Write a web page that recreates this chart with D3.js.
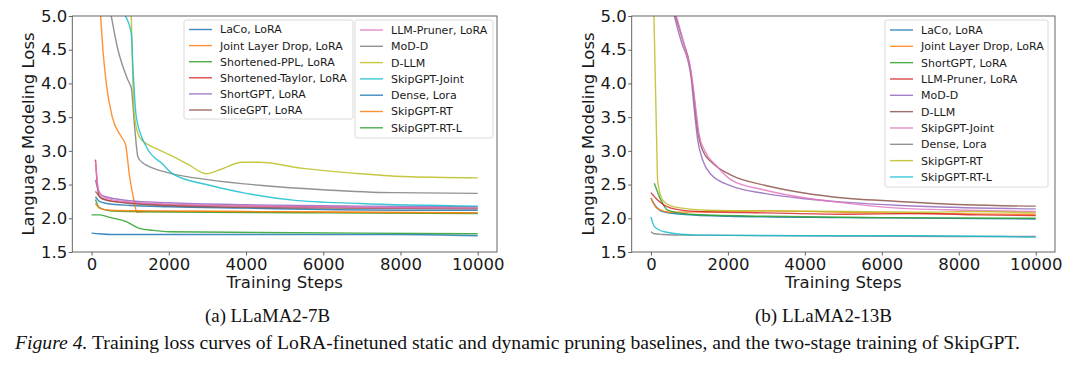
<!DOCTYPE html>
<html><head><meta charset="utf-8">
<script src="https://cdn.jsdelivr.net/npm/d3@7"></script>
<style>
body{margin:0;background:#fff;}
svg{display:block;}
</style></head>
<body>
<svg id="chart" width="1080" height="365"></svg>
<script>
// ---------- DATA ----------
const yTicks = [1.5, 2.0, 2.5, 3.0, 3.5, 4.0, 4.5, 5.0];
const xTicks = [0, 2000, 4000, 6000, 8000, 10000];

// (a) LLaMA2-7B : [step, loss]
const a_LaCo = [[100,2.32],[200,2.25],[400,2.22],[1000,2.19],[2000,2.17],[4000,2.15],[6000,2.13],[8000,2.12],[10000,2.12]];
const a_JointLD = [[233,5.0],[293,4.5],[380,4.0],[536,3.5],[769,3.21],[880,3.09],[984,2.62],[1114,2.22],[1165,2.09],[1500,2.10],[3000,2.10],[6000,2.09],[10000,2.08]];
const a_ShortPPL = [[100,2.28],[200,2.16],[466,2.11],[1000,2.10],[3000,2.09],[6000,2.08],[10000,2.07]];
const a_ShortTaylor = [[100,2.87],[163,2.42],[207,2.32],[400,2.27],[1000,2.23],[2000,2.20],[4000,2.18],[7000,2.16],[10000,2.15]];
const a_ShortGPT = [[100,2.57],[180,2.40],[300,2.33],[1000,2.26],[2000,2.23],[4000,2.20],[7000,2.18],[10000,2.17]];
const a_SliceGPT = [[100,2.40],[300,2.28],[1000,2.22],[3000,2.17],[6000,2.15],[10000,2.14]];
const a_LLMPruner = [[100,2.85],[170,2.45],[250,2.34],[500,2.28],[1000,2.24],[2000,2.21],[4000,2.18],[7000,2.16],[10000,2.15]];
const a_MoDD = [[510,5.0],[682,4.5],[811,4.25],[941,4.05],[1028,3.93],[1114,3.36],[1200,2.91],[1330,2.82],[1417,2.79],[2020,2.67],[3057,2.57],[4352,2.49],[6080,2.42],[7800,2.38],[10000,2.37]];
const a_DLLM = [[1028,5.0],[1070,4.0],[1114,3.5],[1243,3.2],[1500,3.08],[1762,3.01],[2021,2.94],[2500,2.8],[2971,2.66],[3316,2.72],[3900,2.83],[4350,2.83],[5475,2.74],[6770,2.67],[8065,2.62],[10000,2.60]];
const a_SkipJoint = [[873,5.0],[1028,4.74],[1070,4.25],[1158,3.5],[1417,3.06],[1847,2.8],[2100,2.66],[3057,2.49],[4007,2.37],[5216,2.27],[6943,2.22],[10000,2.18]];
const a_Dense = [[0,1.78],[200,1.77],[500,1.76],[2000,1.76],[5000,1.76],[8000,1.76],[10000,1.74]];
const a_SkipRT = [[100,2.22],[200,2.15],[500,2.12],[1500,2.11],[4000,2.10],[7000,2.09],[10000,2.08]];
const a_SkipRTL = [[0,2.05],[207,2.05],[500,2.01],[898,1.95],[1243,1.85],[1600,1.82],[2020,1.80],[4352,1.79],[7000,1.78],[10000,1.77]];

// (b) LLaMA2-13B : [step, loss]
const b_LaCo = [[0,2.30],[100,2.20],[300,2.10],[800,2.06],[2000,2.03],[5000,2.01],[10000,1.99]];
const b_JointLD = [[0,2.30],[150,2.15],[500,2.09],[1500,2.10],[3000,2.11],[5000,2.09],[7000,2.07],[10000,2.06]];
const b_ShortGPT = [[87,2.52],[260,2.27],[434,2.12],[1000,2.06],[3000,2.03],[6000,2.01],[10000,2.00]];
const b_LLMPruner = [[0,2.38],[174,2.27],[520,2.15],[1216,2.10],[3000,2.08],[5000,2.06],[7000,2.07],[8500,2.05],[10000,2.04]];
const b_MoDD = [[607,5.0],[800,4.6],[955,4.35],[1042,4.1],[1128,3.6],[1216,3.16],[1346,2.86],[1563,2.65],[2083,2.48],[2943,2.37],[4000,2.29],[5000,2.24],[6500,2.19],[8000,2.16],[10000,2.14]];
const b_DLLM = [[640,5.0],[850,4.6],[1000,4.3],[1100,3.9],[1216,3.3],[1346,3.0],[1600,2.82],[2083,2.64],[2950,2.49],[3820,2.39],[4688,2.32],[6424,2.25],[8160,2.20],[10000,2.18]];
const b_SkipJoint = [[660,5.0],[900,4.5],[1050,4.15],[1150,3.7],[1250,3.25],[1400,3.0],[1700,2.78],[2083,2.57],[2943,2.42],[3820,2.32],[4688,2.25],[6424,2.15],[8160,2.12],[10000,2.10]];
const b_Dense = [[0,1.80],[87,1.77],[300,1.76],[1000,1.75],[4000,1.74],[8000,1.73],[10000,1.73]];
const b_SkipRT = [[78,5.0],[150,3.1],[175,2.55],[304,2.27],[600,2.17],[1500,2.12],[3000,2.11],[5000,2.10],[7000,2.09],[8500,2.10],[10000,2.08]];
const b_SkipRTL = [[0,2.02],[87,1.88],[346,1.80],[1216,1.75],[4000,1.74],[7000,1.74],[10000,1.72]];

const namesA = ["LaCo, LoRA","Joint Layer Drop, LoRA","Shortened-PPL, LoRA","Shortened-Taylor, LoRA","ShortGPT, LoRA","SliceGPT, LoRA","LLM-Pruner, LoRA","MoD-D","D-LLM","SkipGPT-Joint","Dense, Lora","SkipGPT-RT","SkipGPT-RT-L"];
const seriesA = [a_LaCo,a_JointLD,a_ShortPPL,a_ShortTaylor,a_ShortGPT,a_SliceGPT,a_LLMPruner,a_MoDD,a_DLLM,a_SkipJoint,a_Dense,a_SkipRT,a_SkipRTL];
const namesB = ["LaCo, LoRA","Joint Layer Drop, LoRA","ShortGPT, LoRA","LLM-Pruner, LoRA","MoD-D","D-LLM","SkipGPT-Joint","Dense, Lora","SkipGPT-RT","SkipGPT-RT-L"];
const seriesB = [b_LaCo,b_JointLD,b_ShortGPT,b_LLMPruner,b_MoDD,b_DLLM,b_SkipJoint,b_Dense,b_SkipRT,b_SkipRTL];

const palette = ["#1f77b4","#ff7f0e","#2ca02c","#d62728","#9467bd","#8c564b","#e377c2","#7f7f7f","#bcbd22","#17becf"];

// ---------- DRAW ----------
const svg = d3.select("#chart");
const FONT = "DejaVu Sans, sans-serif";

function panel(id, x0, x1, y0, y1, names, series, legends) {
  const g = svg.append("g");
  const x = d3.scaleLinear().domain([-500, 10500]).range([x0, x1]);
  const y = d3.scaleLinear().domain([1.5, 5.0]).range([y1, y0]);

  g.append("clipPath").attr("id", id).append("rect")
    .attr("x", x0).attr("y", y0).attr("width", x1 - x0).attr("height", y1 - y0);

  const line = d3.line().curve(d3.curveMonotoneX).x(d => x(d[0])).y(d => y(d[1]));
  const lg = g.append("g").attr("clip-path", `url(#${id})`);
  series.forEach((s, i) => {
    lg.append("path").attr("d", line(s)).attr("fill", "none")
      .attr("stroke", palette[i % 10]).attr("stroke-width", 1.4)
      .attr("stroke-opacity", 0.85).attr("stroke-linejoin", "round");
  });

  // axes
  const ax = g.append("g").attr("transform", `translate(0,${y1})`)
    .call(d3.axisBottom(x).tickValues(xTicks).tickFormat(d3.format("d")).tickSize(3.5).tickSizeOuter(0).tickPadding(3));
  const ay = g.append("g").attr("transform", `translate(${x0},0)`)
    .call(d3.axisLeft(y).tickValues(yTicks).tickFormat(d3.format(".1f")).tickSize(3.5).tickSizeOuter(0).tickPadding(1.5));
  [ax, ay].forEach(a => {
    a.select(".domain").remove();
    a.selectAll(".tick line").attr("stroke", "#555").attr("stroke-width", 0.9);
    a.selectAll(".tick text").attr("fill", "#1a1a1a").style("font-family", FONT).style("font-size", "16.5px");
  });

  g.append("rect").attr("x", x0).attr("y", y0).attr("width", x1 - x0).attr("height", y1 - y0)
    .attr("fill", "none").attr("stroke", "#555").attr("stroke-width", 0.9);

  g.append("text").attr("x", (x0 + x1) / 2).attr("y", 288).attr("text-anchor", "middle")
    .style("font-family", FONT).style("font-size", "16.5px").attr("fill", "#1a1a1a").text("Training Steps");
  g.append("text").attr("transform", `translate(${x0 - 38},${(y0 + y1) / 2}) rotate(-90)`)
    .attr("text-anchor", "middle").style("font-family", FONT).style("font-size", "16.5px")
    .attr("fill", "#1a1a1a").text("Language Modeling Loss");

  // legends
  legends.forEach(L => {
    const lgd = g.append("g");
    lgd.append("rect").attr("x", L.x).attr("y", L.y).attr("width", L.w).attr("height", L.h)
      .attr("rx", 2).attr("fill", "#fff").attr("fill-opacity", 0.85).attr("stroke", "#d6d6d6").attr("stroke-width", 0.9);
    L.idx.forEach((k, j) => {
      const cy = L.y + L.first + j * L.step;
      lgd.append("line").attr("x1", L.x + 5).attr("x2", L.x + 28).attr("y1", cy).attr("y2", cy)
        .attr("stroke", palette[k % 10]).attr("stroke-width", 1.4).attr("stroke-opacity", 0.85);
      lgd.append("text").attr("x", L.x + 36).attr("y", cy).attr("dy", "0.36em")
        .style("font-family", FONT).style("font-size", "11px").attr("fill", "#1a1a1a").text(names[k]);
    });
  });
}

panel("clipA", 72.3, 497, 16, 252, namesA, seriesA, [
  {x: 184, y: 20, w: 169, h: 99, first: 9.5, step: 16.1, idx: [0,1,2,3,4,5]},
  {x: 355, y: 20, w: 138, h: 118, first: 10, step: 16.3, idx: [6,7,8,9,10,11,12]}
]);
panel("clipB", 631.7, 1055, 16, 252, namesB, seriesB, [
  {x: 885, y: 20, w: 163, h: 167, first: 10, step: 16.33, idx: [0,1,2,3,4,5,6,7,8,9]}
]);

// captions
const SERIF = "Liberation Serif, Times New Roman, serif";
svg.append("text").attr("x", 205).attr("y", 322).attr("textLength", 125).attr("lengthAdjust", "spacingAndGlyphs")
  .style("font-family", SERIF).style("font-size", "19px").attr("fill", "#111").text("(a) LLaMA2-7B");
svg.append("text").attr("x", 755).attr("y", 322).attr("textLength", 137).attr("lengthAdjust", "spacingAndGlyphs")
  .style("font-family", SERIF).style("font-size", "19px").attr("fill", "#111").text("(b) LLaMA2-13B");
const cap = svg.append("text").attr("x", 15).attr("y", 349).attr("textLength", 1005).attr("lengthAdjust", "spacingAndGlyphs")
  .style("font-family", SERIF).style("font-size", "19px").attr("fill", "#111");
cap.append("tspan").style("font-style", "italic").text("Figure 4.");
cap.append("tspan").text(" Training loss curves of LoRA-finetuned static and dynamic pruning baselines, and the two-stage training of SkipGPT.");
</script>
</body></html>
